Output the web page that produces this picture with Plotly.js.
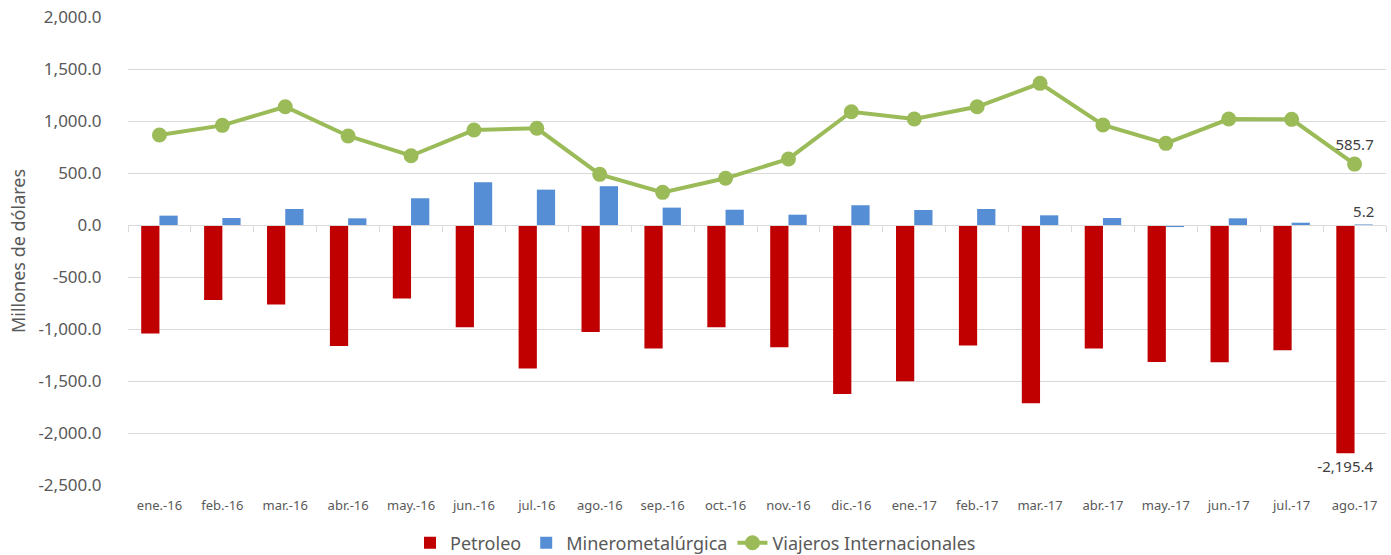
<!DOCTYPE html>
<html>
<head>
<meta charset="utf-8">
<script src="https://cdn.plot.ly/plotly-3.0.1.min.js"></script>
<style>html,body{margin:0;padding:0;background:#fff;}#chart{width:1391px;height:555px;}</style>
</head>
<body>
<div id="chart"></div>
<script>
const months = ["ene.-16","feb.-16","mar.-16","abr.-16","may.-16","jun.-16","jul.-16","ago.-16","sep.-16","oct.-16","nov.-16","dic.-16","ene.-17","feb.-17","mar.-17","abr.-17","may.-17","jun.-17","jul.-17","ago.-17"];
const petroleo = [-1043,-722,-764,-1163,-706,-983,-1381,-1028,-1188,-983,-1175,-1625,-1503,-1159,-1715,-1188,-1317,-1320,-1204,-2195.4];
const minero = [90,67,154,64,257,411,340,373,167,147,99,190,144,154,93,67,-20,64,22,5.2];
const viajeros = [865,958,1137,856,666,913,930,487,314,449,635,1089,1019,1137,1362,962,785,1019,1016,585.7];
const yTicks = [-2500,-2000,-1500,-1000,-500,0,500,1000,1500,2000];

const fmt = v => v.toLocaleString('en-US',{minimumFractionDigits:1,maximumFractionDigits:1});
const lastOnly = arr => arr.map((v,i)=> i===arr.length-1 ? fmt(v) : '');

const FONT = "Noto Sans, Open Sans, sans-serif";
const nCat = months.length;
const traces = [
  {type:'bar', name:'Petroleo', x:months, y:petroleo, marker:{color:'#C00000'},
   text:lastOnly(petroleo), textposition:'outside', cliponaxis:false, constraintext:'none',
   textfont:{family:FONT,size:15,color:'#404040'}},
  {type:'bar', name:'Minerometalúrgica', x:months, y:minero, marker:{color:'#558ED5'},
   text:lastOnly(minero), textposition:'outside', cliponaxis:false, constraintext:'none',
   textfont:{family:FONT,size:15,color:'#404040'}},
  {type:'scatter', mode:'lines+markers+text', name:'Viajeros Internacionales', x:months, y:viajeros,
   line:{color:'#9BBB59',width:4}, marker:{color:'#9BBB59',size:15},
   text:lastOnly(viajeros), textposition:'top center', cliponaxis:false,
   textfont:{family:FONT,size:15,color:'#404040'}},
  // carrier trace for the category axis line drawn at zero
  {type:'scatter', x:months, y:months.map(()=>null), xaxis:'x2', yaxis:'y', showlegend:false, hoverinfo:'skip'}
];

const layout = {
  width:1391, height:555,
  margin:{l:128,r:5,t:17,b:70},
  paper_bgcolor:'#fff', plot_bgcolor:'#fff',
  barmode:'group', bargap:0.42, bargroupgap:0,
  showlegend:true,
  legend:{orientation:'h', x:0.5, xanchor:'center', xref:'container', y:1-543/555, yanchor:'middle', yref:'container',
    font:{family:FONT,size:18,color:'#595959'}},
  font:{family:FONT,color:'#595959'},
  xaxis:{type:'category', range:[-0.5,nCat-0.5], autorange:false, tickfont:{family:FONT,size:13,color:'#595959'},
    showgrid:false, zeroline:false, showline:false, ticks:'outside', ticklen:8, tickcolor:'rgba(0,0,0,0)', automargin:false},
  xaxis2:{type:'category', overlaying:'x', range:[-0.5,nCat-0.5], autorange:false, anchor:'free', position:2500/4500, side:'bottom',
    showticklabels:false, showline:true, linecolor:'#D9D9D9', linewidth:1,
    ticks:'outside', tickson:'boundaries', ticklen:6, tickcolor:'#D9D9D9', showgrid:false, zeroline:false},
  yaxis:{range:[-2500,2000], autorange:false, tickvals:yTicks, ticktext:yTicks.map(fmt), showgrid:true, gridcolor:'#D9D9D9', gridwidth:1,
    zeroline:false, showline:false, ticks:'outside', ticklen:22, tickcolor:'rgba(0,0,0,0)',
    tickfont:{family:FONT,size:17,color:'#595959'}, automargin:false,
    title:{text:'Millones de dólares', font:{family:FONT,size:18,color:'#595959'}, standoff:8}},
  hovermode:false
};

Plotly.newPlot('chart', traces, layout, {displayModeBar:false, staticPlot:true});
</script>
</body>
</html>
